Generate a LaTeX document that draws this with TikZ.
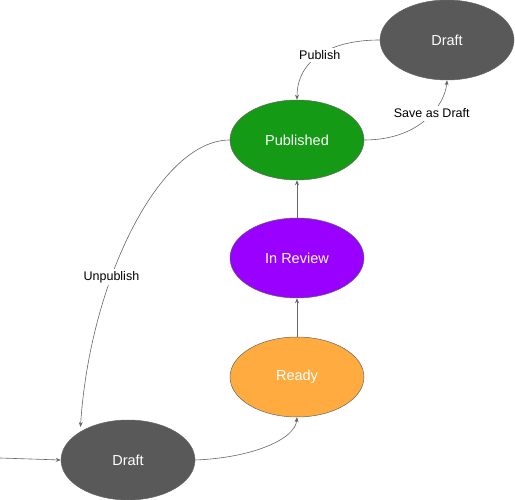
\documentclass[tikz,border=0pt]{standalone}
\usepackage{fontspec}
\setmainfont{Liberation Sans}
\usetikzlibrary{shapes.geometric,arrows.meta}
\definecolor{dgrey}{HTML}{595959}
\definecolor{pgreen}{HTML}{159A15}
\definecolor{ppurple}{HTML}{9900FF}
\definecolor{porange}{HTML}{FFAB40}
\definecolor{edgec}{HTML}{666666}
\begin{document}
\begin{tikzpicture}[x=1pt,y=-1pt,
  state/.style={ellipse, draw=edgec, line width=0.5pt, minimum width=134pt, minimum height=80pt, inner sep=0pt, text=white, font=\fontsize{14.5}{16}\selectfont},
  conn/.style={draw=edgec, line width=0.6pt, -{Stealth[length=5pt,width=4pt]}},
  lbl/.style={fill=white, inner sep=2.5pt, text=black, font=\fontsize{12.5}{14}\selectfont}]
\useasboundingbox (0,0) rectangle (515,500);
\node[state, fill=dgrey] (d1) at (128,460) {Draft};
\node[state, fill=porange] (ready) at (297,377) {Ready};
\node[state, fill=ppurple] (review) at (297,258) {In Review};
\node[state, fill=pgreen] (pub) at (297,140) {Published};
\node[state, fill=dgrey] (d2) at (447,40) {Draft};
\coordinate (in) at (0,458);
\draw[conn] (in) -- (d1.west);
\draw[conn] (d1.east) .. controls (250,458) and (295,440) .. (ready.south);
\draw[conn] (ready.north) -- (review.south);
\draw[conn] (review.north) -- (pub.south);
\draw[conn] (pub.west) .. controls (160,140) and (90,280) .. (d1.north west |- 0,427) node[lbl, pos=0.64] {Unpublish};
\draw[conn] (d2.west) .. controls (330,40) and (297,60) .. (pub.north) node[lbl, pos=0.5] {Publish};
\draw[conn] (pub.east) .. controls (420,140) and (445,105) .. (d2.south) node[lbl, pos=0.58] {Save as Draft};
\end{tikzpicture}
\end{document}
